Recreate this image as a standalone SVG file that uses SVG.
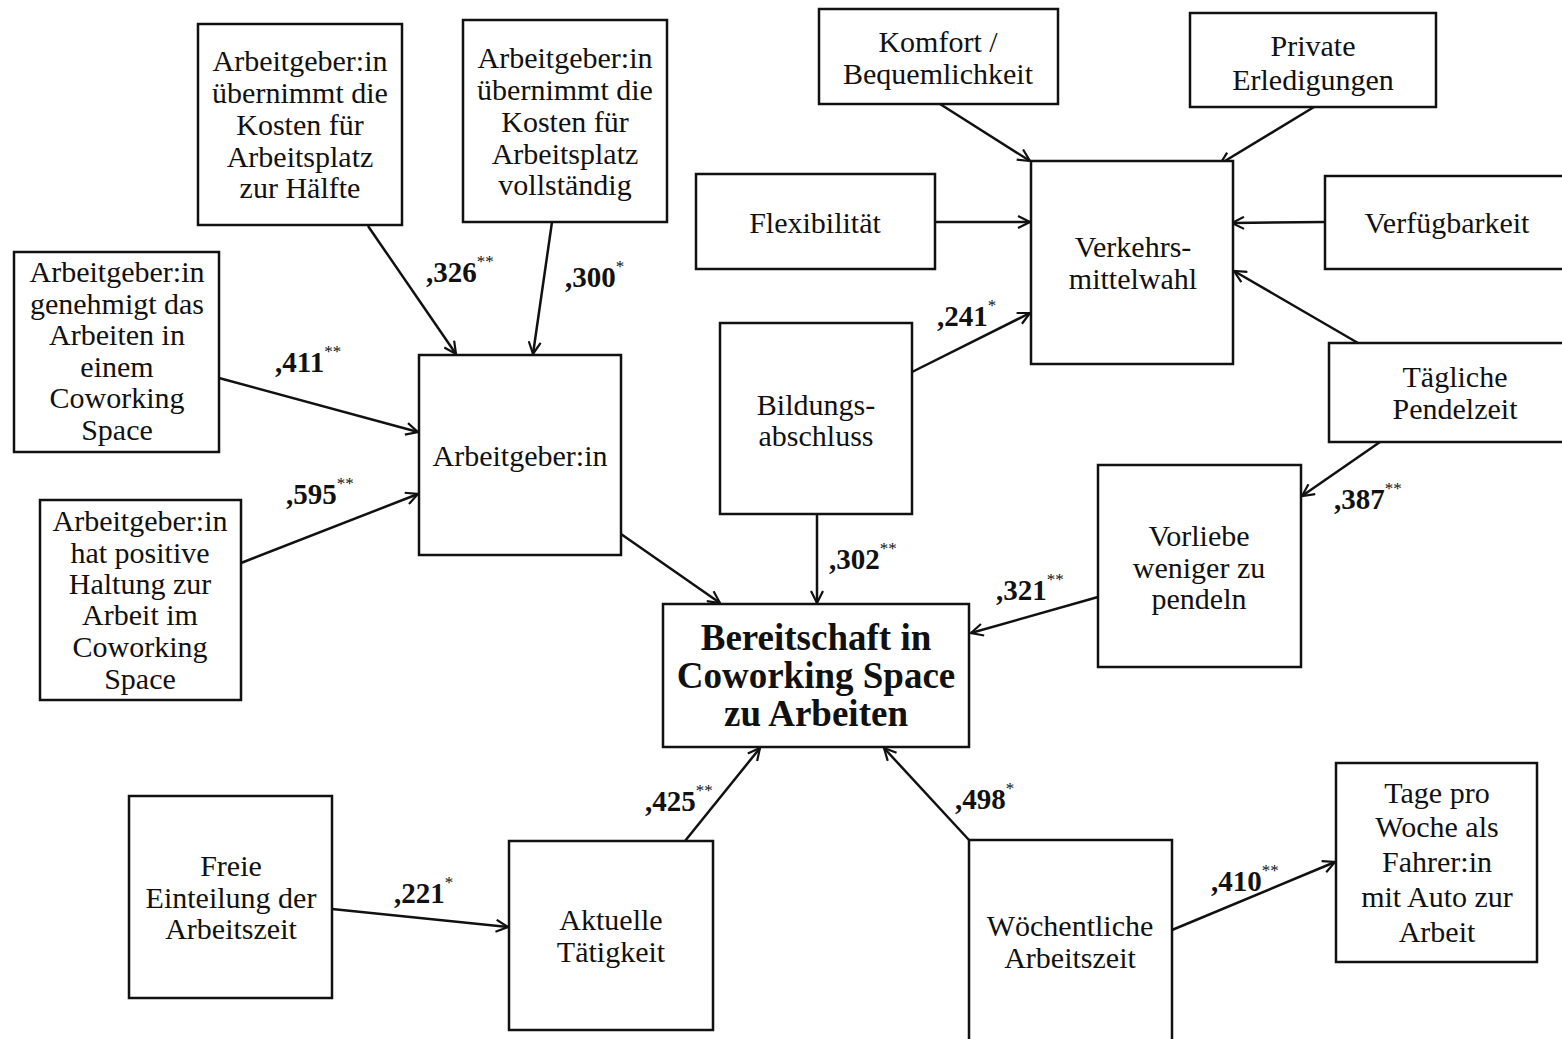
<svg xmlns="http://www.w3.org/2000/svg" width="1562" height="1039" viewBox="0 0 1562 1039" font-family="'Liberation Serif', 'DejaVu Serif', serif">
<defs>
<marker id="ah" viewBox="0 0 14 14" refX="13" refY="7" markerWidth="14" markerHeight="14" markerUnits="userSpaceOnUse" orient="auto">
<path d="M1,1 L13,7 L1,13" fill="none" stroke="#111" stroke-width="2.2"/>
</marker>
<style>
rect{fill:#fff;stroke:#111;stroke-width:2.5}
text{font-family:'Liberation Serif','DejaVu Serif',serif;font-size:30px;fill:#111;text-anchor:middle;dominant-baseline:central}
.b{font-weight:bold;font-size:37px}
.l{font-weight:bold;font-size:29px;text-anchor:start}
.s{font-size:17px;font-weight:normal}
#conn line{stroke:#111;stroke-width:2.5;marker-end:url(#ah)}
</style>
</defs>
<rect x="0" y="0" width="1562" height="1039" style="fill:#fff;stroke:none"/>
<g id="conn">
<line x1="368" y1="226" x2="456" y2="354"/>
<line x1="552" y1="222" x2="533" y2="354"/>
<line x1="219" y1="378" x2="418" y2="432"/>
<line x1="241" y1="563" x2="418" y2="494"/>
<line x1="621" y1="534" x2="720" y2="603"/>
<line x1="817" y1="514" x2="817" y2="603"/>
<line x1="912" y1="372" x2="1030" y2="313"/>
<line x1="940" y1="104" x2="1030" y2="161"/>
<line x1="1314" y1="107" x2="1220" y2="164"/>
<line x1="935" y1="222" x2="1030" y2="222"/>
<line x1="1325" y1="222" x2="1232" y2="223"/>
<line x1="1358" y1="343" x2="1234" y2="271"/>
<line x1="1380" y1="442" x2="1302" y2="496"/>
<line x1="1098" y1="597" x2="971" y2="633"/>
<line x1="685" y1="841" x2="760" y2="748"/>
<line x1="969" y1="840" x2="884" y2="748"/>
<line x1="332" y1="909" x2="508" y2="927"/>
<line x1="1172" y1="930" x2="1335" y2="862"/>
<text class="l" x="426" y="272">,326<tspan class="s" dy="-11">**</tspan></text>
<text class="l" x="565" y="277">,300<tspan class="s" dy="-11">*</tspan></text>
<text class="l" x="275" y="362">,411<tspan class="s" dy="-11">**</tspan></text>
<text class="l" x="286" y="494">,595<tspan class="s" dy="-11">**</tspan></text>
<text class="l" x="829" y="559">,302<tspan class="s" dy="-11">**</tspan></text>
<text class="l" x="937" y="316">,241<tspan class="s" dy="-11">*</tspan></text>
<text class="l" x="1334" y="499">,387<tspan class="s" dy="-11">**</tspan></text>
<text class="l" x="996" y="590">,321<tspan class="s" dy="-11">**</tspan></text>
<text class="l" x="645" y="801">,425<tspan class="s" dy="-11">**</tspan></text>
<text class="l" x="955" y="799">,498<tspan class="s" dy="-11">*</tspan></text>
<text class="l" x="394" y="893">,221<tspan class="s" dy="-11">*</tspan></text>
<text class="l" x="1211" y="881">,410<tspan class="s" dy="-11">**</tspan></text>
</g>
<g id="n_a1"><rect x="198" y="24" width="204" height="201"/>
<text x="300" y="60">Arbeitgeber:in</text><text x="300" y="92">übernimmt die</text><text x="300" y="124">Kosten für</text><text x="300" y="156">Arbeitsplatz</text><text x="300" y="187">zur Hälfte</text></g>
<g id="n_a2"><rect x="463" y="20" width="204" height="202"/>
<text x="565" y="57">Arbeitgeber:in</text><text x="565" y="89">übernimmt die</text><text x="565" y="121">Kosten für</text><text x="565" y="153">Arbeitsplatz</text><text x="565" y="184">vollständig</text></g>
<g id="n_a3"><rect x="14" y="252" width="205" height="200"/>
<text x="117" y="271">Arbeitgeber:in</text><text x="117" y="303">genehmigt das</text><text x="117" y="334">Arbeiten in</text><text x="117" y="366">einem</text><text x="117" y="397">Coworking</text><text x="117" y="429">Space</text></g>
<g id="n_a4"><rect x="40" y="500" width="201" height="200"/>
<text x="140" y="520">Arbeitgeber:in</text><text x="140" y="552">hat positive</text><text x="140" y="583">Haltung zur</text><text x="140" y="614">Arbeit im</text><text x="140" y="646">Coworking</text><text x="140" y="678">Space</text></g>
<g id="n_ag"><rect x="419" y="355" width="202" height="200"/>
<text x="520" y="455">Arbeitgeber:in</text></g>
<g id="n_komfort"><rect x="819" y="9" width="239" height="95"/>
<text x="938" y="41">Komfort /</text><text x="938" y="73">Bequemlichkeit</text></g>
<g id="n_private"><rect x="1190" y="13" width="246" height="94"/>
<text x="1313" y="45">Private</text><text x="1313" y="79">Erledigungen</text></g>
<g id="n_flex"><rect x="696" y="174" width="239" height="95"/>
<text x="815" y="222">Flexibilität</text></g>
<g id="n_verkehr"><rect x="1031" y="161" width="202" height="203"/>
<text x="1133" y="246">Verkehrs-</text><text x="1133" y="278">mittelwahl</text></g>
<g id="n_verf"><rect x="1325" y="176" width="240" height="93"/>
<text x="1447" y="222">Verfügbarkeit</text></g>
<g id="n_bild"><rect x="720" y="323" width="192" height="191"/>
<text x="816" y="404">Bildungs-</text><text x="816" y="435">abschluss</text></g>
<g id="n_pendel"><rect x="1329" y="343" width="236" height="99"/>
<text x="1455" y="376">Tägliche</text><text x="1455" y="408">Pendelzeit</text></g>
<g id="n_vorliebe"><rect x="1098" y="465" width="203" height="202"/>
<text x="1199" y="535">Vorliebe</text><text x="1199" y="567">weniger zu</text><text x="1199" y="598">pendeln</text></g>
<g id="n_bereit"><rect x="663" y="604" width="306" height="143"/>
<text class="b" x="816" y="637">Bereitschaft in</text><text class="b" x="816" y="675">Coworking Space</text><text class="b" x="816" y="713">zu Arbeiten</text></g>
<g id="n_tage"><rect x="1336" y="763" width="201" height="199"/>
<text x="1437" y="792">Tage pro</text><text x="1437" y="826">Woche als</text><text x="1437" y="861">Fahrer:in</text><text x="1437" y="896">mit Auto zur</text><text x="1437" y="931">Arbeit</text></g>
<g id="n_freie"><rect x="129" y="796" width="203" height="202"/>
<text x="231" y="865">Freie</text><text x="231" y="897">Einteilung der</text><text x="231" y="928">Arbeitszeit</text></g>
<g id="n_akt"><rect x="509" y="841" width="204" height="189"/>
<text x="611" y="919">Aktuelle</text><text x="611" y="951">Tätigkeit</text></g>
<g id="n_woch"><rect x="969" y="840" width="203" height="210"/>
<text x="1070" y="925">Wöchentliche</text><text x="1070" y="957">Arbeitszeit</text></g>
</svg>
